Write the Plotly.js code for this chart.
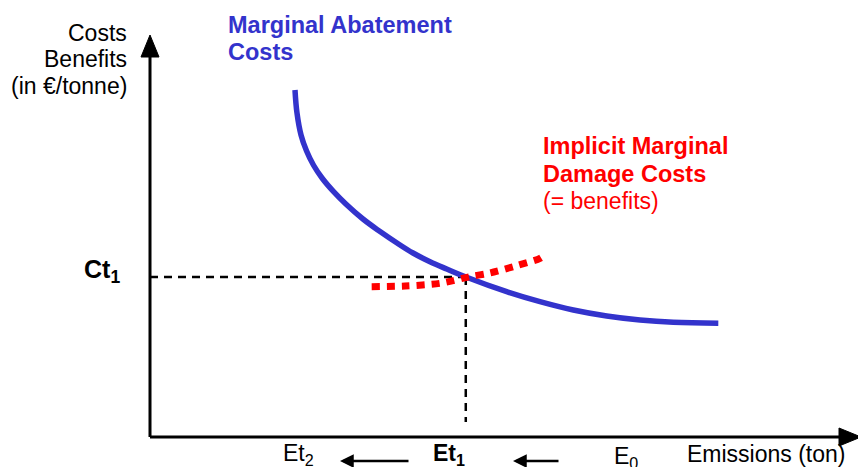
<!DOCTYPE html>
<html>
<head>
<meta charset="utf-8">
<script src="https://cdn.plot.ly/plotly-3.0.1.min.js"></script>
<style>html,body{margin:0;padding:0;background:#fff;}#chart{width:858px;height:467px;}</style>
</head>
<body>
<div id="chart"></div>
<script>
// Marginal abatement cost curve (emissions units, €/tonne units)
const macX = [20.48, 20.76, 21.33, 22.10, 23.10, 24.35, 25.90, 27.70, 30.08, 32.49, 34.89, 37.15, 39.55, 41.91, 44.73, 50.38, 55.08, 59.79, 64.51, 69.21, 73.91, 80.27];
const macY = [86.32, 80.60, 75.12, 71.20, 67.60, 64.30, 61.10, 57.90, 54.23, 51.12, 48.26, 45.77, 43.61, 41.79, 39.73, 36.14, 33.66, 31.59, 30.10, 29.10, 28.53, 28.28];
// Implicit marginal damage cost curve
const mdcX = [31.31, 36.02, 40.96, 45.20, 48.02, 51.79, 55.08, 55.93];
const mdcY = [37.39, 37.56, 38.23, 39.88, 40.80, 42.61, 44.45, 45.52];
// Equilibrium point
const et1 = [44.6];
const ct1 = [39.8];
// Labels
const yTitleLines = ["Costs", "Benefits", "(in €/tonne)"];
const macLabel = ["Marginal Abatement", "Costs"];
const mdcLabel = ["Implicit Marginal", "Damage Costs"];
const mdcSub = "(= benefits)";
const xTickLabels = ["Et<sub>2</sub>", "<b>Et<sub>1</sub></b>", "E<sub>0</sub>"];
const xTitle = "Emissions (ton)";
const ctLabel = "<b>Ct<sub>1</sub></b>";

// axis scale: pixel = 150 + x*7.08 ; pixel_y = 437 - y*4.02
const W = 858, H = 467;
const sx = 7.08, sy = 4.02, ox = 150, oy = 437;
const X0 = -ox / sx, X1 = (W - ox) / sx;
const Y0 = -(H - oy) / sy, Y1 = oy / sy;
const px = p => (p - ox) / sx;   // pixel -> x units
const py = p => (oy - p) / sy;   // pixel -> y units

const blue = '#3333CC', red = '#FF0000';
const fam = 'Liberation Sans, Arial, sans-serif';

const traces = [
  {x: [0, et1[0]], y: [ct1[0], ct1[0]], mode: 'lines', line: {color: '#000', width: 2.5, dash: '8px,6px'}, hoverinfo: 'skip'},
  {x: [et1[0], et1[0]], y: [ct1[0], py(422)], mode: 'lines', line: {color: '#000', width: 2.5, dash: '8px,6px'}, hoverinfo: 'skip'},
  {x: macX, y: macY, mode: 'lines', line: {color: blue, width: 5.5, shape: 'spline', smoothing: 1.1}, hoverinfo: 'skip'},
  {x: mdcX, y: mdcY, mode: 'lines', line: {color: red, width: 7, shape: 'spline', smoothing: 0.8, dash: '8px,7px'}, hoverinfo: 'skip'}
];

const font = {family: fam, size: 23, color: '#000'};
const ann = (x, y, text, opts) => Object.assign({xref: 'x', yref: 'y', x: x, y: y, text: text, showarrow: false, font: font, yanchor: 'middle'}, opts || {});
const bold = (c) => ({family: fam, size: 23.5, color: c, weight: 'bold'});

const annotations = [
  ann(px(129), py(33), yTitleLines[0], {xanchor: 'right'}),
  ann(px(129), py(59), yTitleLines[1], {xanchor: 'right'}),
  ann(px(129), py(86), yTitleLines[2], {xanchor: 'right'}),
  ann(px(226), py(25), macLabel[0], {xanchor: 'left', font: bold(blue)}),
  ann(px(226), py(52), macLabel[1], {xanchor: 'left', font: bold(blue)}),
  ann(px(541), py(146), mdcLabel[0], {xanchor: 'left', font: bold(red)}),
  ann(px(541), py(174), mdcLabel[1], {xanchor: 'left', font: bold(red)}),
  ann(px(541), py(201), mdcSub, {xanchor: 'left', font: {family: fam, size: 23, color: red}}),
  ann(px(82), ct1[0] + 1.4, ctLabel, {xanchor: 'left', font: {family: fam, size: 25, color: '#000'}}),
  ann(px(281), py(454), xTickLabels[0], {xanchor: 'left'}),
  ann(px(431), py(454), xTickLabels[1], {xanchor: 'left'}),
  ann(px(612), py(457), xTickLabels[2], {xanchor: 'left'}),
  ann(px(685), py(454), xTitle, {xanchor: 'left'}),
  // small arrows between x labels
  {xref: 'x', yref: 'y', axref: 'x', ayref: 'y', x: px(340), y: py(461), ax: px(410), ay: py(461), showarrow: true, arrowhead: 2, arrowsize: 1.1, arrowwidth: 2.5, arrowcolor: '#000', text: ''},
  {xref: 'x', yref: 'y', axref: 'x', ayref: 'y', x: px(513), y: py(461), ax: px(560), ay: py(461), showarrow: true, arrowhead: 2, arrowsize: 1.1, arrowwidth: 2.5, arrowcolor: '#000', text: ''}
];

const hx = 9 / sx, hy = 22 / sy; // y arrowhead half width, length
const gx = 22 / sx, gy = 9 / sy; // x arrowhead length, half width
const yTip = py(35), xTip = px(861);
const shapes = [
  {type: 'line', xref: 'x', yref: 'y', x0: 0, y0: 0, x1: 0, y1: yTip - hy + 0.5, line: {color: '#000', width: 3}},
  {type: 'line', xref: 'x', yref: 'y', x0: 0, y0: 0, x1: xTip - gx + 0.3, y1: 0, line: {color: '#000', width: 3}},
  {type: 'path', xref: 'x', yref: 'y', path: `M ${-hx} ${yTip - hy} L 0 ${yTip} L ${hx} ${yTip - hy} Z`, fillcolor: '#000', line: {color: '#000', width: 1}},
  {type: 'path', xref: 'x', yref: 'y', path: `M ${xTip - gx} ${gy} L ${xTip} 0 L ${xTip - gx} ${-gy} Z`, fillcolor: '#000', line: {color: '#000', width: 1}}
];

const layout = {
  width: W, height: H,
  margin: {l: 0, r: 0, t: 0, b: 0},
  paper_bgcolor: '#fff', plot_bgcolor: '#fff',
  showlegend: false,
  xaxis: {range: [X0, X1], visible: false, fixedrange: true},
  yaxis: {range: [Y0, Y1], visible: false, fixedrange: true},
  annotations: annotations,
  shapes: shapes,
  font: font
};

Plotly.newPlot('chart', traces, layout, {displayModeBar: false, staticPlot: true});
</script>
</body>
</html>
